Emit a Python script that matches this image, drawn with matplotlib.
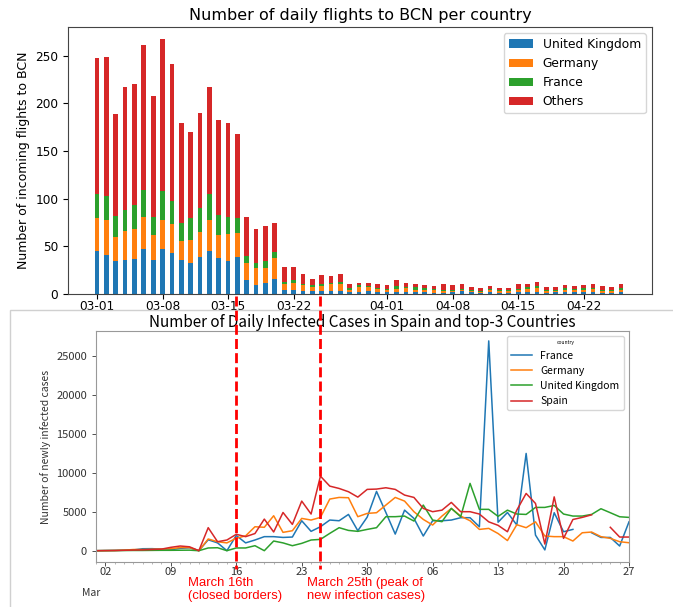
import numpy as np
import pandas as pd
import matplotlib
matplotlib.use('Agg')
import matplotlib.pyplot as plt
import matplotlib.dates as mdates
from matplotlib.patches import Rectangle
from matplotlib.lines import Line2D
from matplotlib.transforms import blended_transform_factory

# ---- flights to BCN (daily, 2020-03-01 .. 2020-04-26)
flight_days = pd.date_range('2020-03-01', '2020-04-26', freq='D')
uk = [45, 41, 35, 36, 37, 47, 36, 47, 43, 36, 33, 39, 45, 38, 35, 39, 15, 9, 12, 16,
      4, 4, 3, 3, 3, 3, 3, 2, 2, 3, 2, 2, 2, 2, 2, 2, 1, 1, 2, 3, 2, 1, 2, 1, 1, 2,
      2, 2, 1, 2, 2, 2, 2, 2, 1, 1, 2]
germany = [35, 37, 25, 30, 31, 34, 26, 31, 30, 20, 24, 26, 33, 24, 28, 25, 17, 18, 15, 22,
           7, 8, 6, 4, 5, 7, 7, 2, 5, 4, 3, 2, 3, 4, 2, 2, 3, 2, 1, 1, 1, 1, 2, 2, 2, 2,
           3, 4, 2, 1, 2, 2, 2, 3, 2, 2, 2]
france = [25, 25, 22, 22, 25, 28, 19, 30, 25, 18, 23, 25, 27, 21, 18, 16, 8, 6, 8, 6,
          2, 3, 2, 2, 2, 2, 3, 2, 2, 1, 1, 1, 3, 1, 3, 2, 1, 1, 1, 1, 1, 1, 1, 1, 1, 1,
          2, 2, 1, 1, 2, 1, 2, 1, 1, 1, 2]
others = [142, 146, 107, 129, 127, 152, 127, 159, 143, 105, 90, 100, 112, 99, 98, 88, 41, 35, 36, 30,
          15, 13, 10, 7, 10, 7, 8, 5, 3, 4, 5, 4, 7, 5, 4, 3, 3, 7, 5, 6, 3, 3, 3, 2, 2, 6,
          4, 5, 3, 3, 3, 3, 3, 5, 4, 3, 5]

# ---- newly infected cases (daily, 2020-03-01 .. 2020-04-27)
case_days = pd.date_range('2020-03-01', '2020-04-27', freq='D')
nan = np.nan
cases_france = [0, 20, 40, 60, 100, 250, 260, 200, 120, 300, 370, 0,
                1400, 1000, 0, 1950, 1000, 1370, 1800, 1800, 1700, 1750, 3840, 2480,
                3070, 3930, 3840, 4650, 2560, 4300, 7600, 4900, 2130, 5200, 4140, 1880,
                3840, 3840, 3930, 4230, 4230, 3070, 26900, 3650, 4900, 3300, 12470, 2000,
                100, 4870, 2430, 2730, nan, 2300, 1700, 1700, 600, 3700]
cases_germany = [0, 10, 30, 70, 150, 150, 180, 200, 250, 400, 400, 0,
                 1500, 1150, 1000, 1600, 1900, 3070, 3000, 4480, 2350, 2560, 4140, 3930,
                 4270, 6620, 6830, 6790, 4360, 4780, 4870, 5850, 6830, 6360, 5000, 4010,
                 3290, 4440, 5420, 4440, 3840, 2730, 2860, 2200, 1300, 3330, 2950, 3700,
                 1880, 1800, 1800, 1240, 2300, 2390, 1800, 1580, 1150, 1020]
cases_uk = [0, 10, 10, 20, 30, 30, 40, 50, 50, 60, 70, 0,
            350, 380, 0, 350, 350, 640, 0, 1240, 1000, 640, 940, 1370,
            1450, 2220, 2950, 2600, 2480, 2730, 2950, 4360, 4360, 4440, 3800, 5850,
            3930, 3720, 5420, 4360, 8630, 5300, 5300, 4400, 5200, 4700, 4650, 5550,
            5550, 5800, 4700, 4440, 4440, 4650, 5380, 4870, 4350, 4270]
cases_spain = [0, 10, 20, 50, 80, 100, 150, 200, 430, 600, 500, 0,
               2950, 1150, 1370, 2100, 1800, 2200, 4050, 2400, 4900, 3370, 6360, 4700,
               9560, 8280, 7980, 7560, 6870, 7860, 7900, 8070, 7860, 7130, 6830, 5420,
               5000, 5200, 6190, 5000, 5000, 4700, 3700, 3250, 2430, 5200, 7340, 6060,
               850, 6900, 1580, 4000, 4270, 4600, nan, 3000, 1750, 1750]

event_days = [pd.Timestamp('2020-03-16'), pd.Timestamp('2020-03-25')]
event_labels = ['March 16th\n(closed borders)', 'March 25th (peak of\nnew infection cases)']
event_text_x = [188, 307]

W, H = 673, 607
fig = plt.figure(figsize=(W / 100, H / 100), dpi=100)


def box(x0, y0, x1, y1):
    return [x0 / W, 1 - y1 / H, (x1 - x0) / W, (y1 - y0) / H]


# ---------------- top chart
ax1 = fig.add_axes(box(68, 27, 652, 294))
b1 = np.array(uk)
b2 = b1 + np.array(germany)
b3 = b2 + np.array(france)
ax1.bar(flight_days, uk, width=0.5, color='#1f77b4', label='United Kingdom')
ax1.bar(flight_days, germany, width=0.5, bottom=b1, color='#ff7f0e', label='Germany')
ax1.bar(flight_days, france, width=0.5, bottom=b2, color='#2ca02c', label='France')
ax1.bar(flight_days, others, width=0.5, bottom=b3, color='#d62728', label='Others')
ax1.set_xlim(flight_days[0] - pd.Timedelta(days=3.1), flight_days[0] + pd.Timedelta(days=59.3))
ax1.set_ylim(0, 280)
ax1.xaxis.set_major_locator(mdates.DayLocator(bymonthday=[1, 8, 15, 22]))
ax1.xaxis.set_major_formatter(mdates.DateFormatter('%m-%d'))
ax1.tick_params(labelsize=8.7)
ax1.tick_params(axis='x', pad=1)
for s in ax1.spines.values():
    s.set_color('#444444')
ax1.set_ylabel('Number of incoming flights to BCN', fontsize=9)
ax1.set_title('Number of daily flights to BCN per country', fontsize=11.5, pad=5)
ax1.legend(loc='upper right', fontsize=8.8)

# ---------------- bottom chart (framed panel)
fig.patches.append(Rectangle((10 / W, -0.01), 1.0, (H - 310) / H + 0.01,
                             transform=fig.transFigure, fill=False,
                             edgecolor='#d0d0d0', linewidth=1))

cjk = ['Noto Sans CJK JP', 'DejaVu Sans']
ax2 = fig.add_axes(box(96, 331, 629, 562))
ax2.plot(case_days, cases_france, color='#1f77b4', lw=1.1, label='France')
ax2.plot(case_days, cases_germany, color='#ff7f0e', lw=1.1, label='Germany')
ax2.plot(case_days, cases_uk, color='#2ca02c', lw=1.1, label='United Kingdom')
ax2.plot(case_days, cases_spain, color='#d62728', lw=1.1, label='Spain')
ax2.set_xlim(case_days[0], case_days[-1])
ax2.set_ylim(-1450, 28170)
ax2.xaxis.set_major_locator(mdates.WeekdayLocator(byweekday=mdates.MO))
ax2.xaxis.set_major_formatter(mdates.DateFormatter('%d'))
ax2.xaxis.set_minor_locator(mdates.DayLocator())
for s in ax2.spines.values():
    s.set_color('#999999')
ax2.tick_params(axis='both', which='major', labelsize=8, colors='#333333',
                length=3, width=0.6)
ax2.tick_params(axis='x', which='major', pad=0.5)
ax2.tick_params(axis='x', which='minor', length=1.5, width=0.5, color='#999999')
for lab in ax2.get_xticklabels() + ax2.get_yticklabels():
    lab.set_family(cjk)
ax2.set_ylabel('Number of newly infected cases', fontsize=7.5, family=cjk, color='#333333')
ax2.set_title('Number of Daily Infected Cases in Spain and top-3 Countries',
              fontsize=11, family=cjk, pad=3)
leg = ax2.legend(title='country', loc='upper right', prop={'family': cjk, 'size': 7.5},
                 title_fontproperties={'family': cjk, 'size': 3.5})
fig.text(91 / W, 1 - 593 / H, 'Mar', fontsize=7.5, family=cjk, color='#333333',
         ha='center', va='center')

# red dashed event markers spanning both charts
tr = blended_transform_factory(ax2.transData, fig.transFigure)
for d, txt, tx in zip(event_days, event_labels, event_text_x):
    fig.add_artist(Line2D([mdates.date2num(d)] * 2, [1 - 296 / H, 1 - 569 / H],
                          transform=tr, color='red', lw=2, dashes=(3.6, 1.5)))
    fig.text(tx / W, 1 - 577 / H, txt, color='red', fontsize=9.4,
             family='Liberation Sans', ha='left', va='top', linespacing=1.15)

fig.savefig('out.png', dpi=100)
